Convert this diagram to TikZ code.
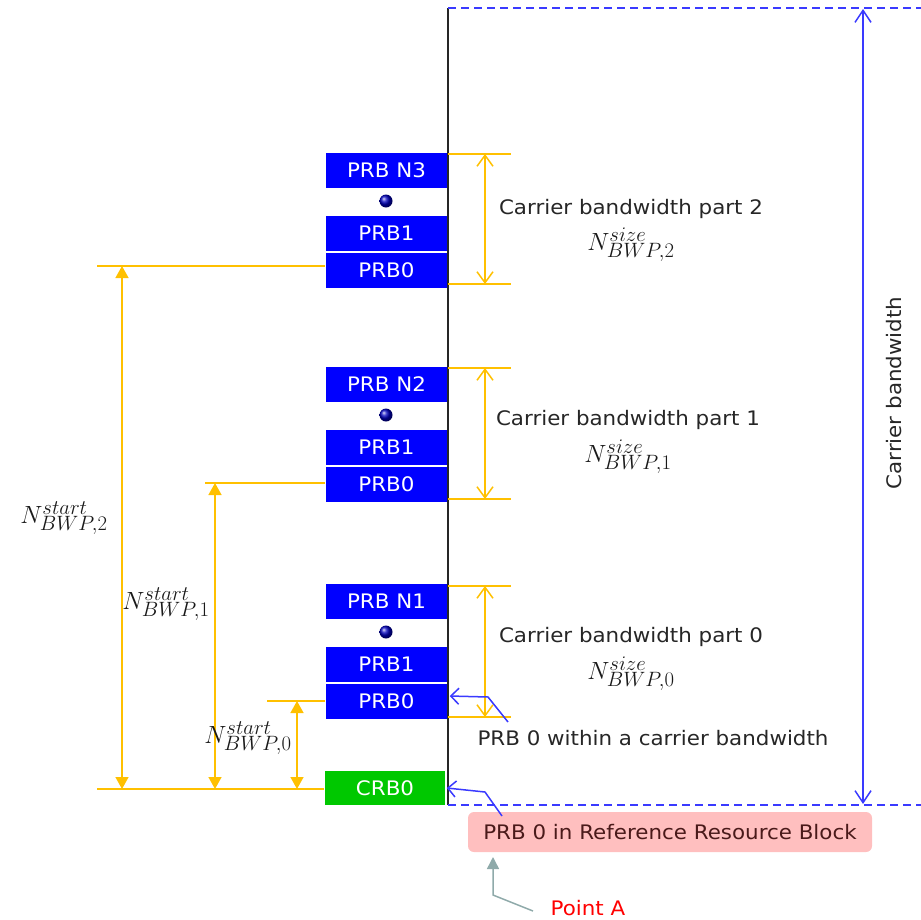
\documentclass[tikz,border=0pt]{standalone}
\usepackage{fontspec}
\setmainfont{DejaVu Sans}[FakeStretch=1.07]
\usetikzlibrary{arrows.meta}
\definecolor{prbblue}{HTML}{0000FF}
\definecolor{crbgreen}{HTML}{00C800}
\definecolor{dimorange}{HTML}{FFC000}
\definecolor{ptrblue}{HTML}{3A3AFF}
\definecolor{pinkbox}{HTML}{FFBFBF}
\definecolor{boxtext}{HTML}{4A1A1A}
\definecolor{greyteal}{HTML}{8FAAAA}
\begin{document}
\begin{tikzpicture}[x=1pt,y=-1pt,line width=1.5pt,font=\fontsize{20}{24}\selectfont,
	prb/.style={fill=prbblue,text=white,minimum width=121pt,minimum height=35pt,inner sep=0pt},
	crb/.style={fill=crbgreen,text=white,minimum width=120pt,minimum height=34pt,inner sep=0pt},
	lbl/.style={text=black!85,inner sep=0pt},
	mathlbl/.style={text=black!90,inner sep=0pt,font=\fontsize{30}{36}\selectfont},
	rbdot/.style={circle,ball color=prbblue!75!black,minimum size=13pt,inner sep=0pt},
	dimline/.style={color=dimorange,line width=1.5pt},
	dimin/.style={dimline,{Straight Barb[length=11pt,width=16pt]}-{Straight Barb[length=11pt,width=16pt]}},
	dimout/.style={dimline,{Triangle[length=12pt,width=13pt]}-{Triangle[length=12pt,width=13pt]}},
	ptr/.style={color=ptrblue,line width=1.5pt,-{Straight Barb[length=8pt,width=16pt]}},
	greyptr/.style={color=greyteal,line width=1.5pt,-{Triangle[length=12pt,width=12pt]}}]
		\useasboundingbox (0,0) rectangle (921,919);
		% carrier frame
		\coordinate (ftop) at (448,8);
		\coordinate (fbot) at (448,805);
		\draw[black!85] (ftop)--(fbot);
		\draw[ptrblue,dash pattern=on 8pt off 5pt] (ftop)--(921,8);
		\draw[ptrblue,dash pattern=on 8pt off 5pt] (fbot)--(921,805);
		\coordinate (cbt) at (863,9);
		\coordinate (cbb) at (863,804);
		\draw[ptr,{Straight Barb[length=12pt,width=16pt]}-{Straight Barb[length=12pt,width=16pt]}] (cbt)--(cbb);
		\node[lbl,rotate=90] (cblbl) at (894,393) {Carrier bandwidth};
		% bandwidth part 2
		\node[prb] (prbn3) at (386.5,170) {PRB N3};
		\node[rbdot] (dot2) at (386,201) {};
		\node[prb] (prb21) at (386.5,233.5) {PRB1};
		\node[prb] (prb20) at (386.5,270.5) {PRB0};
		% bandwidth part 1
		\node[prb] (prbn2) at (386.5,384) {PRB N2};
		\node[rbdot] (dot1) at (386,415) {};
		\node[prb] (prb11) at (386.5,447.5) {PRB1};
		\node[prb] (prb10) at (386.5,484) {PRB0};
		% bandwidth part 0
		\node[prb] (prbn1) at (386.5,601) {PRB N1};
		\node[rbdot] (dot0) at (386,632) {};
		\node[prb] (prb01) at (386.5,664.5) {PRB1};
		\node[prb] (prb00) at (386.5,701.5) {PRB0};
		\node[crb] (crb0) at (385,788) {CRB0};
		% size of each part
		\coordinate (s2t) at (448,154);
		\coordinate (s2b) at (448,284);
		\coordinate (s1t) at (448,368);
		\coordinate (s1b) at (448,499);
		\coordinate (s0t) at (448,586);
		\coordinate (s0b) at (448,717);
		\draw[dimline] (s2t)--++(63,0);
		\draw[dimline] (s2b)--++(63,0);
		\draw[dimline] (s1t)--++(63,0);
		\draw[dimline] (s1b)--++(63,0);
		\draw[dimline] (s0t)--++(63,0);
		\draw[dimline] (s0b)--++(63,0);
		\draw[dimin] ([xshift=37pt]s2t)--([xshift=37pt]s2b);
		\draw[dimin] ([xshift=37pt]s1t)--([xshift=37pt]s1b);
		\draw[dimin] ([xshift=37pt]s0t)--([xshift=37pt]s0b);
		\node[lbl] (bwp2) at (631,209) {Carrier bandwidth part 2};
		\node[mathlbl] (size2) at (631,245) {$N^{size}_{BWP,2}$};
		\node[lbl] (bwp1) at (628,420) {Carrier bandwidth part 1};
		\node[mathlbl] (size1) at (628,457) {$N^{size}_{BWP,1}$};
		\node[lbl] (bwp0) at (631,637) {Carrier bandwidth part 0};
		\node[mathlbl] (size0) at (631,674) {$N^{size}_{BWP,0}$};
		% start of each part
		\coordinate (st2) at (97,266);
		\coordinate (st1) at (205,483);
		\coordinate (st0) at (267,701);
		\coordinate (stc) at (97,789);
		\draw[dimline] (st2)--(st2 -| prb20.west);
		\draw[dimline] (st1)--(st1 -| prb10.west);
		\draw[dimline] (st0)--(st0 -| prb00.west);
		\draw[dimline] (stc)--(stc -| crb0.west);
		\draw[dimout] (st2 -| 122,0)--(stc -| 122,0);
		\draw[dimout] (st1 -| 215,0)--(stc -| 215,0);
		\draw[dimout] (st0 -| 297,0)--(stc -| 297,0);
		\node[mathlbl] (start2) at (64,518) {$N^{start}_{BWP,2}$};
		\node[mathlbl] (start1) at (166,604) {$N^{start}_{BWP,1}$};
		\node[mathlbl] (start0) at (248,738) {$N^{start}_{BWP,0}$};
		% pointers
		\node[lbl] (within) at (653,738) {PRB 0 within a carrier bandwidth};
		\coordinate (wp) at (508,722);
		\draw[ptr] (wp)--(488,697)--([yshift=5.5pt,xshift=2pt]prb00.east);
		\node[fill=pinkbox,text=boxtext,rounded corners=6pt,minimum width=404pt,minimum height=40pt,inner sep=0pt] (refrb) at (670,832) {PRB 0 in Reference Resource Block};
		\coordinate (rp) at (502,816);
		\draw[ptr] (rp)--(485,792)--([xshift=1pt]crb0.east);
		\node[text=red,inner sep=0pt] (pointa) at (588,908) {Point A};
		\coordinate (ga) at (533,911);
		\draw[greyptr] (ga)--(493,895)--(493,857);
\end{tikzpicture}
\end{document}
